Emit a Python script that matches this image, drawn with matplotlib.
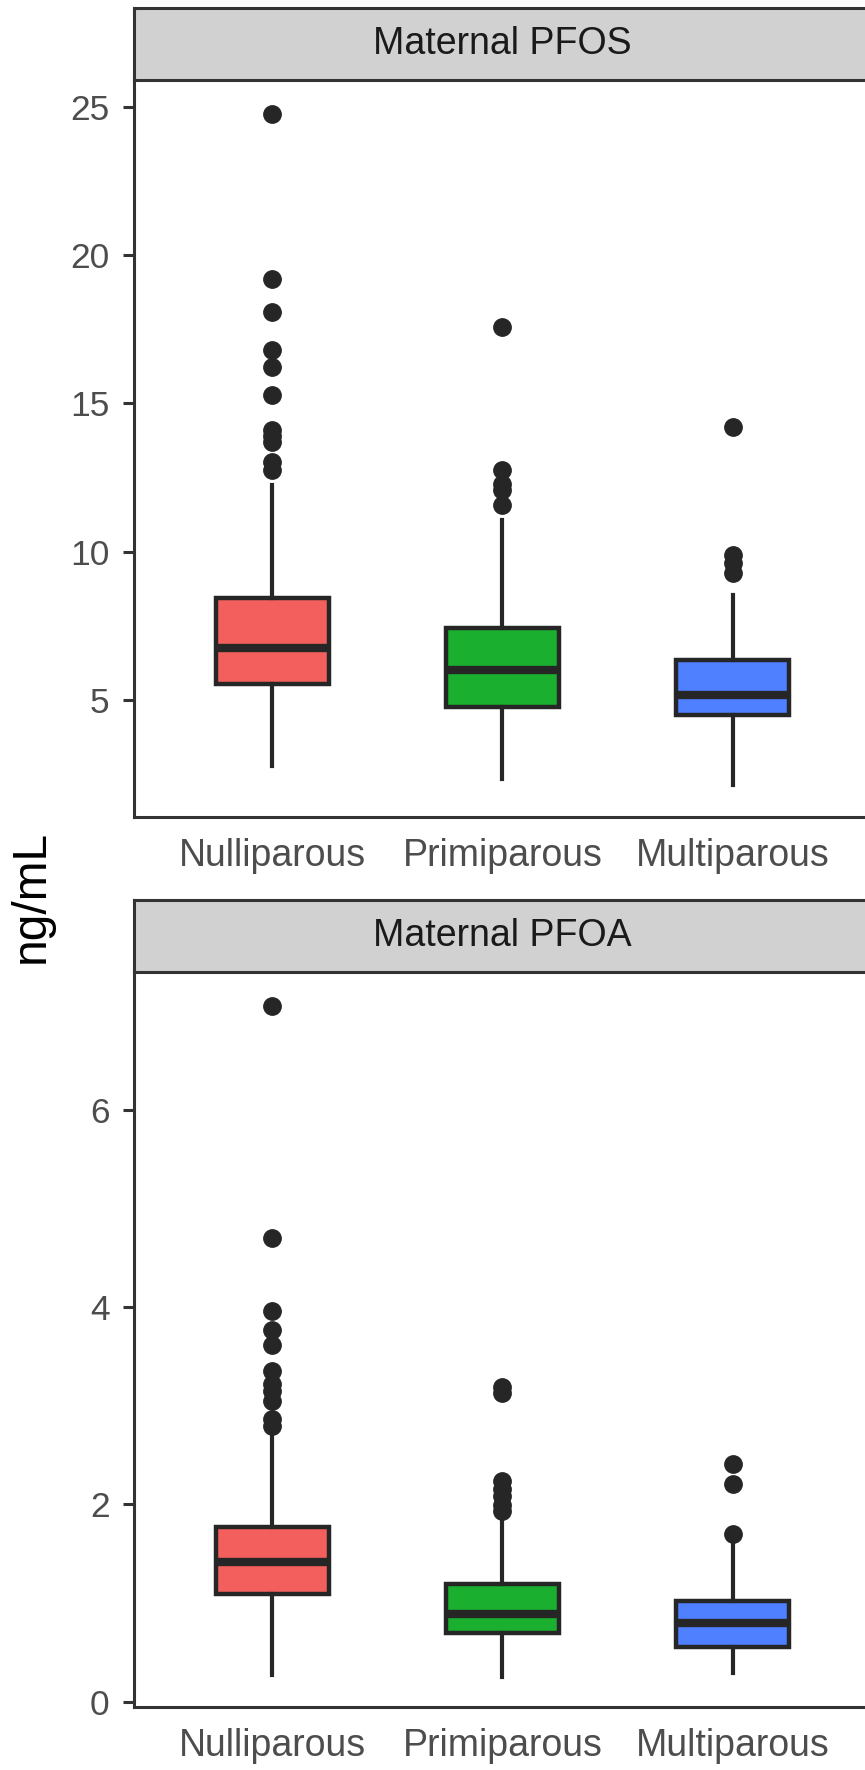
import numpy as np
import matplotlib
matplotlib.use('Agg')
import matplotlib.pyplot as plt

plt.rcParams['font.family'] = ['Liberation Sans', 'DejaVu Sans']

# Data
groups = ['Nulliparous', 'Primiparous', 'Multiparous']
fills = ['#F25F5C', '#1AAF2E', '#4F80FF']

pfos_lo = [2.77, 2.33, 2.13]
pfos_q1 = [5.53, 4.77, 4.49]
pfos_med = [6.76, 6.01, 5.17]
pfos_q3 = [8.43, 7.43, 6.35]
pfos_hi = [12.23, 11.07, 8.55]
pfos_out = [
    [24.75, 19.18, 18.09, 16.79, 16.23, 15.27, 14.09, 13.9, 13.7, 13.03, 12.74],
    [17.58, 12.74, 12.29, 12.06, 11.58],
    [14.2, 9.89, 9.61, 9.27],
]
pfos_ticks = [5, 10, 15, 20, 25]

pfoa_lo = [0.27, 0.255, 0.29]
pfoa_q1 = [1.09, 0.70, 0.55]
pfoa_med = [1.42, 0.89, 0.80]
pfoa_q3 = [1.77, 1.19, 1.02]
pfoa_hi = [2.68, 1.83, 1.60]
pfoa_out = [
    [7.05, 4.70, 3.96, 3.77, 3.62, 3.35, 3.22, 3.15, 3.05, 2.87, 2.79],
    [3.19, 3.13, 2.24, 2.16, 2.08, 1.99, 1.93],
    [2.41, 2.21, 1.70],
]
pfoa_ticks = [0, 2, 4, 6]

W, H = 865, 1770
fig = plt.figure(figsize=(W / 100, H / 100), dpi=100, facecolor='white')

EDGE = '#262626'
AXC = '#333333'


def px_box(x0, y0, x1, y1):
    # pixel box (top-left origin) -> figure fraction rect
    return [x0 / W, 1 - y1 / H, (x1 - x0) / W, (y1 - y0) / H]


def panel(rect, strip_rect, title, lo, q1, med, q3, hi, out, ylim, ticks):
    ax = fig.add_axes(rect)
    stats = []
    for i in range(len(groups)):
        stats.append(dict(med=med[i], q1=q1[i], q3=q3[i], whislo=lo[i],
                          whishi=hi[i], fliers=out[i], label=groups[i]))
    bp = ax.bxp(stats, positions=np.arange(1, len(groups) + 1), widths=0.49,
                patch_artist=True, showcaps=False,
                boxprops=dict(edgecolor=EDGE, linewidth=3.2),
                medianprops=dict(color=EDGE, linewidth=6.0, solid_capstyle='butt'),
                whiskerprops=dict(color=EDGE, linewidth=3.0),
                flierprops=dict(marker='o', markerfacecolor=EDGE,
                                markeredgecolor=EDGE, markersize=12.5))
    for patch, c in zip(bp['boxes'], fills):
        patch.set_facecolor(c)
    ax.set_xlim(0.4, 3.6)
    ax.set_ylim(*ylim)
    ax.set_yticks(ticks)
    ax.set_xticks(np.arange(1, len(groups) + 1))
    ax.set_xticklabels(groups)
    for s in ['top', 'right']:
        ax.spines[s].set_visible(False)
    for s in ['left', 'bottom']:
        ax.spines[s].set_color(AXC)
        ax.spines[s].set_linewidth(2.2)
    ax.tick_params(axis='y', length=8, width=2.2, color=AXC, pad=9.5,
                   labelsize=25.5, labelcolor='#4D4D4D')
    ax.tick_params(axis='x', length=0, pad=15, labelsize=27, labelcolor='#4D4D4D')

    sax = fig.add_axes(strip_rect)
    sax.set_facecolor('#D1D1D1')
    sax.set_xticks([])
    sax.set_yticks([])
    for s in sax.spines.values():
        s.set_color(AXC)
        s.set_linewidth(2.2)
    sax.text(0.5, 0.5, title, ha='center', va='center', fontsize=27,
             color='#1A1A1A', transform=sax.transAxes)
    return ax


panel(px_box(134, 80, 871, 816.7), px_box(134, 8, 871, 80), 'Maternal PFOS',
      pfos_lo, pfos_q1, pfos_med, pfos_q3, pfos_hi, pfos_out, (1.06, 25.9), pfos_ticks)
panel(px_box(134, 971.7, 871, 1707.3), px_box(134, 900, 871, 971.7), 'Maternal PFOA',
      pfoa_lo, pfoa_q1, pfoa_med, pfoa_q3, pfoa_hi, pfoa_out, (-0.057, 7.40), pfoa_ticks)

fig.text(31 / W, 1 - 896 / H, 'ng/mL', rotation=90, ha='center', va='center',
         fontsize=34.5, color='black')

fig.savefig('out.png', dpi=100, facecolor='white')
